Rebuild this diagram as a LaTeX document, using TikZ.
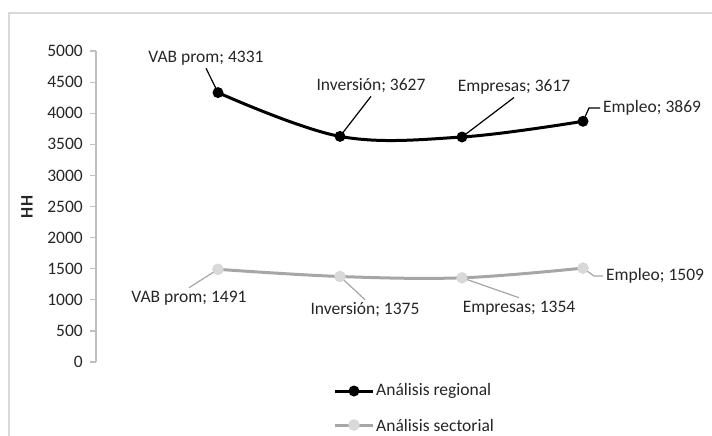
\documentclass[tikz,border=0pt]{standalone}
\usepackage{fontspec}
\setmainfont{Carlito}
\usetikzlibrary{positioning}
\definecolor{framegray}{HTML}{D9D9D9}
\definecolor{axisgray}{HTML}{BFBFBF}
\definecolor{textgray}{HTML}{262626}
\definecolor{seriesgray}{HTML}{A6A6A6}
\definecolor{dotgray}{HTML}{D9D9D9}

\begin{document}
\begin{tikzpicture}[x=1pt, y=-1pt,
    every node/.style={font=\fontsize{17.5}{20}\selectfont, text=textgray},
    regline/.style={line width=3pt, black, line join=round},
    secline/.style={line width=3pt, seriesgray, line join=round},
    regdot/.style={circle, fill=black, minimum size=11pt, inner sep=0pt},
    secdot/.style={circle, fill=dotgray, draw=seriesgray!50, minimum size=11pt, inner sep=0pt},
    lbl/.style={inner sep=3pt},
    regleader/.style={black, line width=1.2pt},
    secleader/.style={seriesgray, line width=1.2pt}]
        \useasboundingbox (0,0) rectangle (712,436);

        % Chart frame
        \draw[framegray, line width=1.5pt] (712,13) -- (9,13) -- (9,436);

        % Vertical axis
        \draw[axisgray, line width=1.2pt] (96,51) -- (96,362);
        \foreach \v in {0,500,...,5000} {
            \draw[axisgray, line width=1.2pt] (90,{362-0.0622*\v}) -- (96,{362-0.0622*\v});
            \node[anchor=east, inner sep=0pt] (t\v) at (83,{362-0.0622*\v}) {\v};
        }
        \node[rotate=90, font=\fontsize{17.5}{20}\selectfont\bfseries] (ylab) at (27,207) {HH};

        % Regional series
        \coordinate (r1) at (218,92.6);
        \coordinate (r2) at (340,136.4);
        \coordinate (r3) at (462,137.0);
        \coordinate (r4) at (583,121.3);
        \draw[regline] plot[smooth, tension=0.6] coordinates {(r1) (r2) (r3) (r4)};

        % Sectoral series
        \coordinate (s1) at (218,269.3);
        \coordinate (s2) at (340,276.5);
        \coordinate (s3) at (462,277.8);
        \coordinate (s4) at (583,268.1);
        \draw[secline] plot[smooth, tension=0.6] coordinates {(s1) (s2) (s3) (s4)};

        % Regional labels
        \node[lbl] (lr1) at (206,58) {VAB prom; 4331};
        \node[lbl] (lr2) at (371,86) {Inversión; 3627};
        \node[lbl] (lr3) at (514,87) {Empresas; 3617};
        \node[lbl, anchor=west] (lr4) at (600,108) {Empleo; 3869};
        \draw[regleader] (lr1.south) -- (r1);
        \draw[regleader] (lr2.south) -- (r2);
        \draw[regleader] (lr3.south) -- (r3);
        \draw[regleader] (r4) -- ([xshift=-11pt]lr4.west) -- (lr4.west);

        % Sectoral labels
        \node[lbl] (ls1) at (189,298) {VAB prom; 1491};
        \node[lbl] (ls2) at (365,310) {Inversión; 1375};
        \node[lbl] (ls3) at (519,308) {Empresas; 1354};
        \node[lbl, anchor=west] (ls4) at (603,276) {Empleo; 1509};
        \draw[secleader] (ls1.north) -- (s1);
        \draw[secleader] (ls2.north) -- (s2);
        \draw[secleader] (ls3.north) -- (s3);
        \draw[secleader] (s4) -- ([xshift=-9pt]ls4.west) -- (ls4.west);

        % Markers
        \foreach \p in {1,2,3,4} {
            \node[regdot] (rd\p) at (r\p) {};
            \node[secdot] (sd\p) at (s\p) {};
        }

        % Legend
        \coordinate (lg1a) at (335,391);
        \coordinate (lg1b) at (373,391);
        \coordinate (lg2a) at (335,425);
        \coordinate (lg2b) at (373,425);
        \draw[regline] (lg1a) -- (lg1b);
        \draw[secline] (lg2a) -- (lg2b);
        \node[regdot] (lgd1) at (354,391) {};
        \node[secdot] (lgd2) at (354,425) {};
        \node[inner sep=0pt, right=3pt of lg1b] (lgt1) {Análisis regional};
        \node[inner sep=0pt, right=3pt of lg2b] (lgt2) {Análisis sectorial};
\end{tikzpicture}
\end{document}
